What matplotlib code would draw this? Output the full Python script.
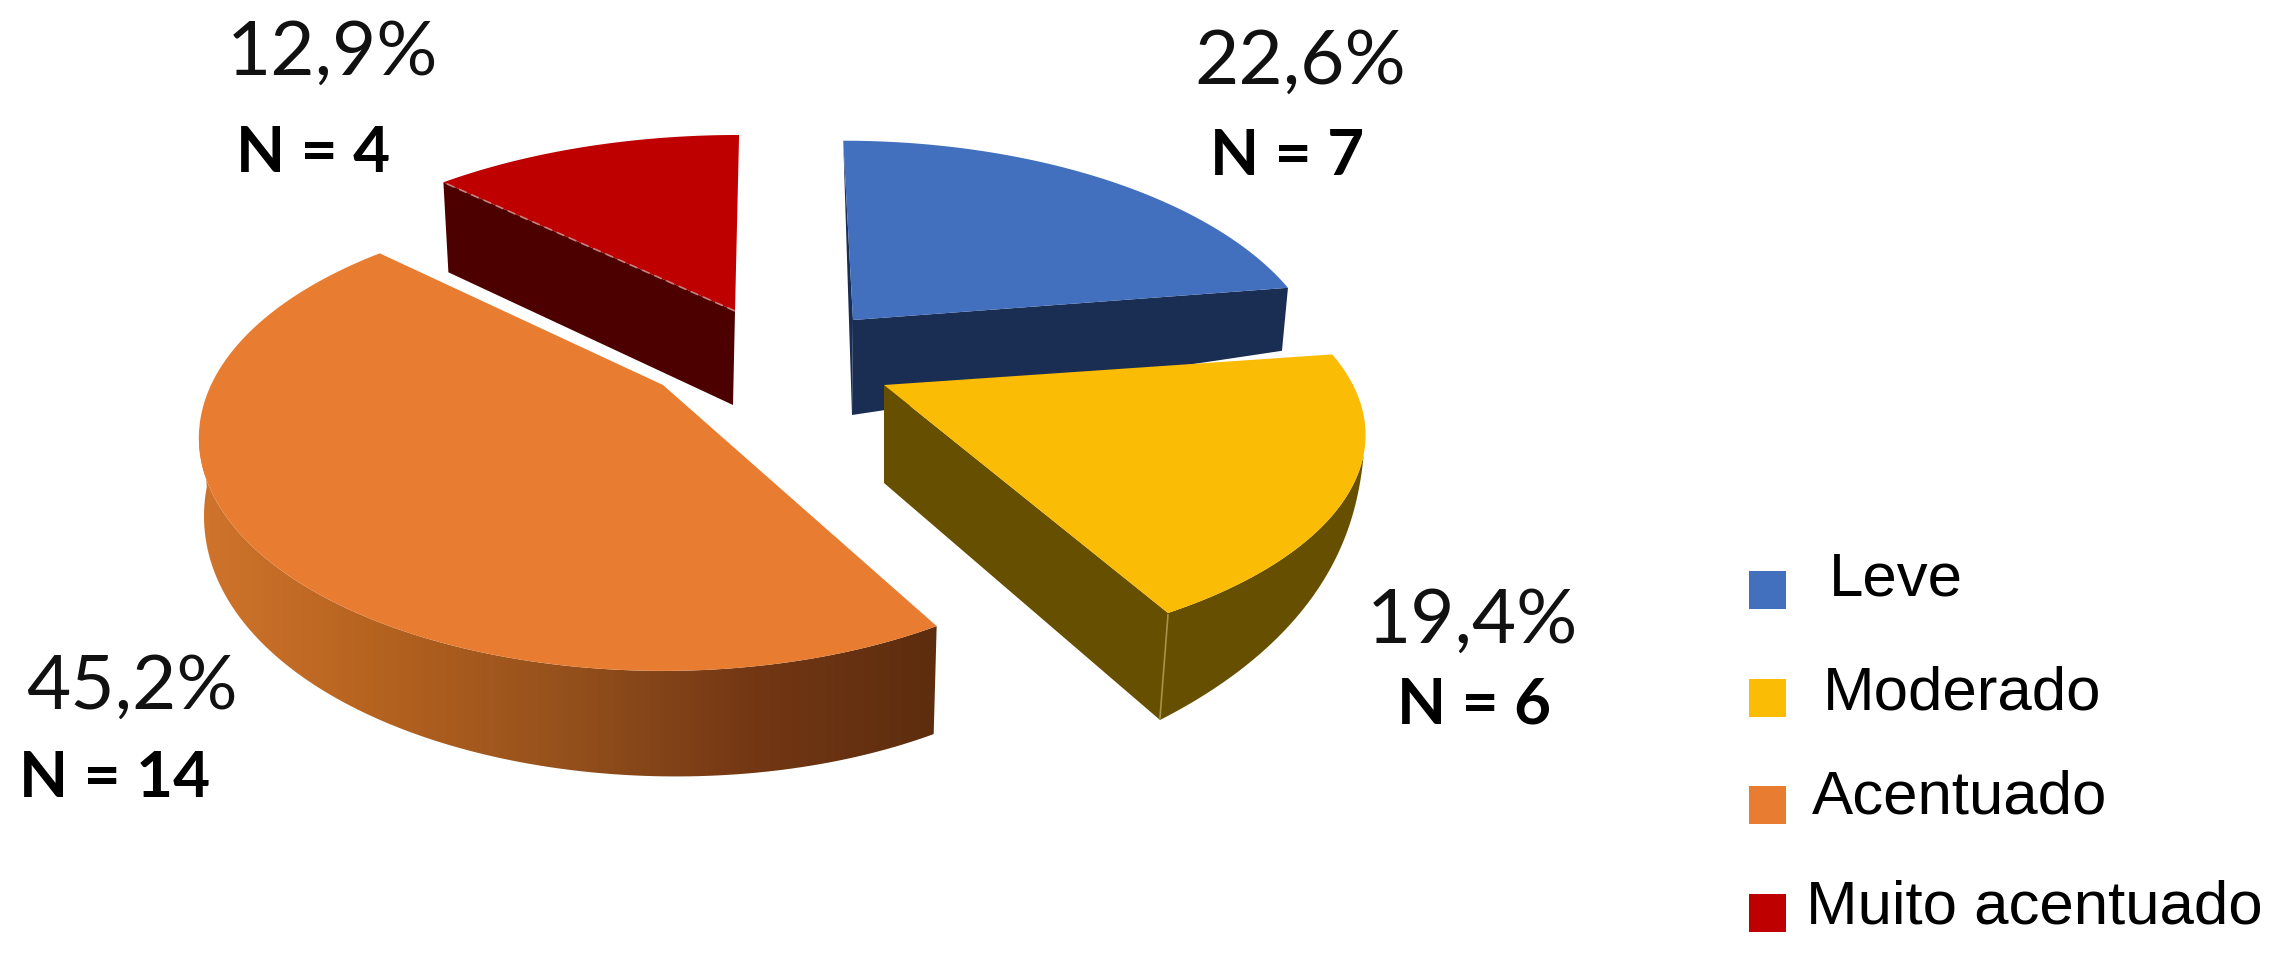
import numpy as np
import matplotlib
matplotlib.use('Agg')
import matplotlib.pyplot as plt
from matplotlib.patches import Polygon
from matplotlib.colors import LinearSegmentedColormap

# data
categories = ['Leve', 'Moderado', 'Acentuado', 'Muito acentuado']
counts = [7, 6, 14, 4]
percent_labels = ['22,6%', '19,4%', '45,2%', '12,9%']
colors = ['#4270BF', '#FBBC05', '#E87C31', '#BE0000']
dark_colors = ['#1A2D52', '#665000', '#8A4A1A', '#4D0000']

# where each exploded slice sits in the picture: apex x, apex y, rx, ry, lean
slice_geo = [(853, 320, 457, 220, -12),
             (884, 385, 469, 209, 0),
             (663, 385, 452, 221, 0),
             (735, 311, 470, 216, 5)]
k = 0.227  # perspective of the pie top

pct_pos = [(1194, 84), (1367, 643), (26, 709), (227, 75)]
n_pos = [(1210, 175), (1397, 723), (19, 797), (236, 172)]
swatch_y = [590, 698, 805, 913]
legend_pos = [(1829, 595), (1823, 710), (1812, 814), (1806, 923)]

fracs = np.array(counts) / sum(counts)
edges = np.concatenate([[0], np.cumsum(fracs)]) * 360


def project(geo, angle):
    # angle in degrees, clockwise from the back of the pie
    ax0, ay0, rx, ry, lean = geo
    a = np.radians(angle)
    u, v = np.sin(a), np.cos(a)
    w = 1 + k * v
    return np.column_stack([ax0 + (rx * u + lean * v) / w, ay0 - ry * v / w])


def top_poly(geo, a0, a1):
    rim = project(geo, np.linspace(a0, a1, 120))
    return np.vstack([[geo[0], geo[1]], rim])


def radial_wall(geo, angle, d_apex, d_rim):
    apex = np.array([geo[0], geo[1]], float)
    rim = project(geo, np.array([angle]))[0]
    return np.array([apex, rim, rim + d_rim, apex + d_apex])


def rim_wall(geo, a0, a1, d0, d1, power=1.0):
    angs = np.linspace(a0, a1, 120)
    rim = project(geo, angs)
    t = np.linspace(0, 1, 120)[:, None] ** power
    low = rim + np.array(d0) * (1 - t) + np.array(d1) * t
    return np.vstack([rim, low[::-1]])


fig = plt.figure(figsize=(22.7, 9.57), dpi=100, facecolor='white')
ax = fig.add_axes([0, 0, 1, 1])

# blue
ax.add_patch(Polygon(radial_wall(slice_geo[0], edges[1], (-1, 95), (-6, 63)), fc=dark_colors[0], ec='none'))
ax.add_patch(Polygon(radial_wall(slice_geo[0], edges[0], (-1, 95), (0, 0)), fc=dark_colors[0], ec='none'))
ax.add_patch(Polygon(top_poly(slice_geo[0], edges[0], edges[1]), fc=colors[0], ec='none'))

# red
ax.add_patch(Polygon(radial_wall(slice_geo[3], edges[3], (-2, 94), (5, 90)), fc=dark_colors[3], ec='none'))
ax.add_patch(Polygon(top_poly(slice_geo[3], edges[3], edges[4]), fc=colors[3], ec='none'))
red_edge = radial_wall(slice_geo[3], edges[3], (0, 0), (0, 0))[:2]
ax.plot(red_edge[:, 0], red_edge[:, 1], color='#C98080', lw=1.2, ls=(0, (5, 3)))

# yellow
ax.add_patch(Polygon(radial_wall(slice_geo[1], edges[2], (0, 98), (-8, 107)), fc=dark_colors[1], ec='none'))
ax.add_patch(Polygon(rim_wall(slice_geo[1], 108, edges[2], (0, 0), (-8, 107), 0.6), fc=dark_colors[1], ec='none'))
ax.add_patch(Polygon(top_poly(slice_geo[1], edges[1], edges[2]), fc=colors[1], ec='none'))
seam = project(slice_geo[1], np.array([edges[2]]))[0]
ax.plot([seam[0], seam[0] - 8], [seam[1] + 2, seam[1] + 105], color='#A8924A', lw=1.2)

# orange, wall has a left to right gradient
wall = Polygon(rim_wall(slice_geo[2], edges[2], 262, (-3, 108), (6, 70), 2.0), fc='none', ec='none')
ax.add_patch(wall)
wall_cmap = LinearSegmentedColormap.from_list('wall', ['#D0742C', '#B4621F', '#94501C', '#733714', '#5C2D0E'])
grad = ax.imshow(np.linspace(0, 1, 256)[None, :], extent=(198, 940, 790, 430), cmap=wall_cmap, aspect='auto', zorder=1)
grad.set_clip_path(wall)
ax.add_patch(Polygon(top_poly(slice_geo[2], edges[2], edges[3]), fc=colors[2], ec='none', zorder=2))

# labels
for i in range(4):
    ax.text(pct_pos[i][0], pct_pos[i][1], percent_labels[i], family='Lato', fontsize=55, color='#111111', va='baseline', ha='left')
    ax.text(n_pos[i][0], n_pos[i][1], 'N = %d' % counts[i], family='Lato', weight='bold', fontsize=46, color='black', va='baseline', ha='left')

# legend
for i in range(4):
    ax.add_patch(Polygon([(1749, swatch_y[i] - 19), (1786, swatch_y[i] - 19), (1786, swatch_y[i] + 19), (1749, swatch_y[i] + 19)], fc=colors[i], ec='none'))
    ax.text(legend_pos[i][0], legend_pos[i][1], categories[i], family='Liberation Sans', fontsize=44.5, color='black', va='baseline', ha='left')

ax.set_xlim(0, 2270)
ax.set_ylim(957, 0)
ax.axis('off')
fig.savefig('out.png', dpi=100, facecolor='white')
